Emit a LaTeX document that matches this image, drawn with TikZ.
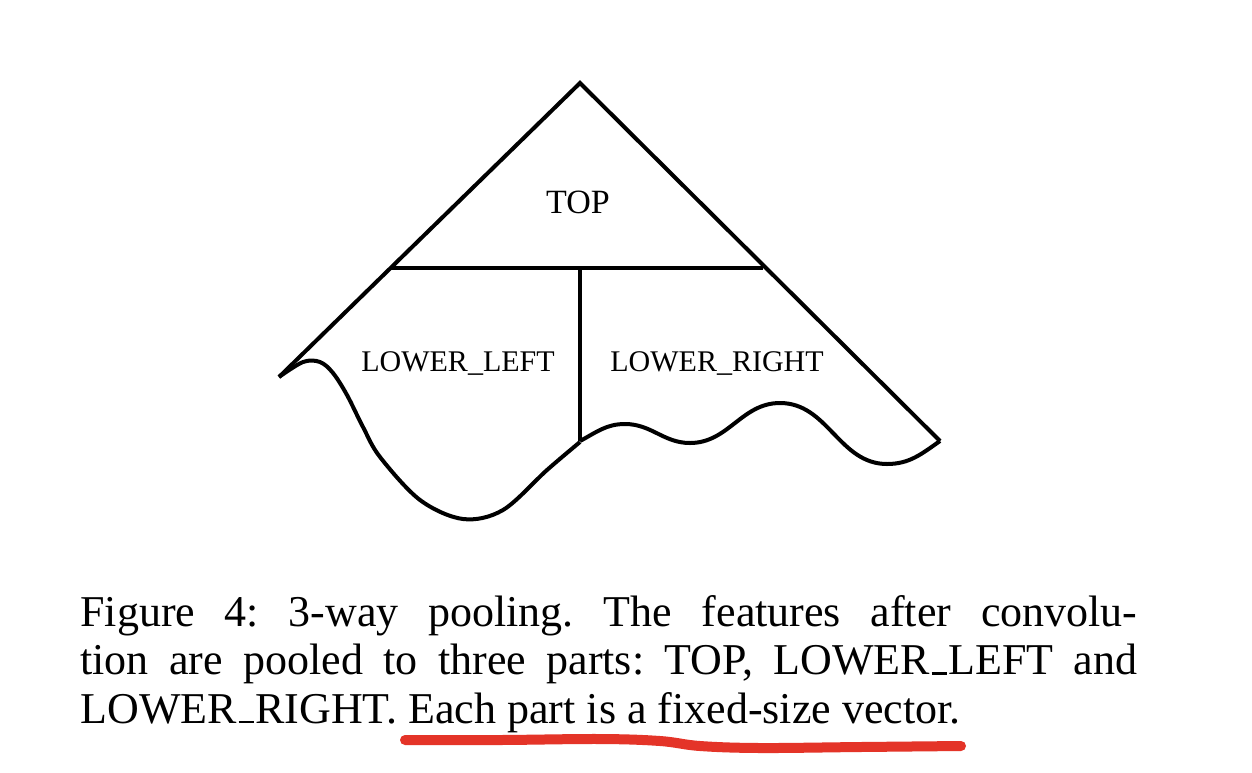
\documentclass[tikz,border=0pt]{standalone}
\usepackage{fontspec}
\setmainfont{Liberation Serif}
\definecolor{penred}{RGB}{228,52,40}
\newcommand\capus{\leavevmode\kern.04em\vbox{\hrule width.36em height 0.05em}\kern.02em}
\begin{document}
\begin{tikzpicture}[x=0.5pt,y=-0.5pt,
  edge/.style={line width=2pt,line join=miter},
  lbl/.style={font=\fontsize{15}{18}\selectfont,inner sep=0pt,anchor=base},
  mark line/.style={penred,line width=5pt,line cap=round}]
\useasboundingbox[fill=white] (0,0) rectangle (1252,772);
% key points
\coordinate (apex) at (580,83);
\coordinate (ltip) at (279,377);
\coordinate (rtip) at (940,441);
\coordinate (hl) at (391,268);
\coordinate (hr) at (763,268);
\coordinate (vt) at (580,268);
\coordinate (vb) at (580,441);
% triangle sides
\draw[edge] (ltip) -- (apex) -- (rtip);
\draw[edge] (hl) -- (hr);
\draw[edge] (vt) -- (vb);
% wavy bottom
\draw[edge,line join=round] plot[smooth,tension=0.55] coordinates {
 (279,377) (303,362) (320,362) (333,373) (347,395) (363,427) (380,457)
 (420,500) (463,519) (503,510) (547,470) (580,442)};
\draw[edge,line join=round] (vb) to[out=28,in=180] (625,424)
  to[out=0,in=180] (690,443) to[out=0,in=180] (780,403)
  to[out=0,in=180] (887,464) to[out=0,in=215] (rtip);
% labels
\node[lbl,font=\fontsize{17}{20}\selectfont] (top) at (578,213) {TOP};
\node[lbl] (ll) at (458,371) {LOWER\_LEFT};
\node[lbl] (lr) at (717,371) {LOWER\_RIGHT};
% caption
\node[inner sep=0pt,anchor=base west] (cap) at (80,626)
 {\parbox[t]{528.5pt}{\fontsize{22}{24.3}\selectfont\frenchspacing
 Figure 4: 3-way pooling. The features after convolu-\linebreak
 tion are pooled to three parts: TOP, LOWER\capus LEFT and\linebreak
 LOWER\capus RIGHT. Each part is a fixed-size vector.}};
% red hand underline
\draw[mark line] plot[smooth,tension=0.6] coordinates {
 (405,740) (500,740) (600,739) (660,741) (700,746) (760,748) (860,747) (961,746)};
\end{tikzpicture}
\end{document}
